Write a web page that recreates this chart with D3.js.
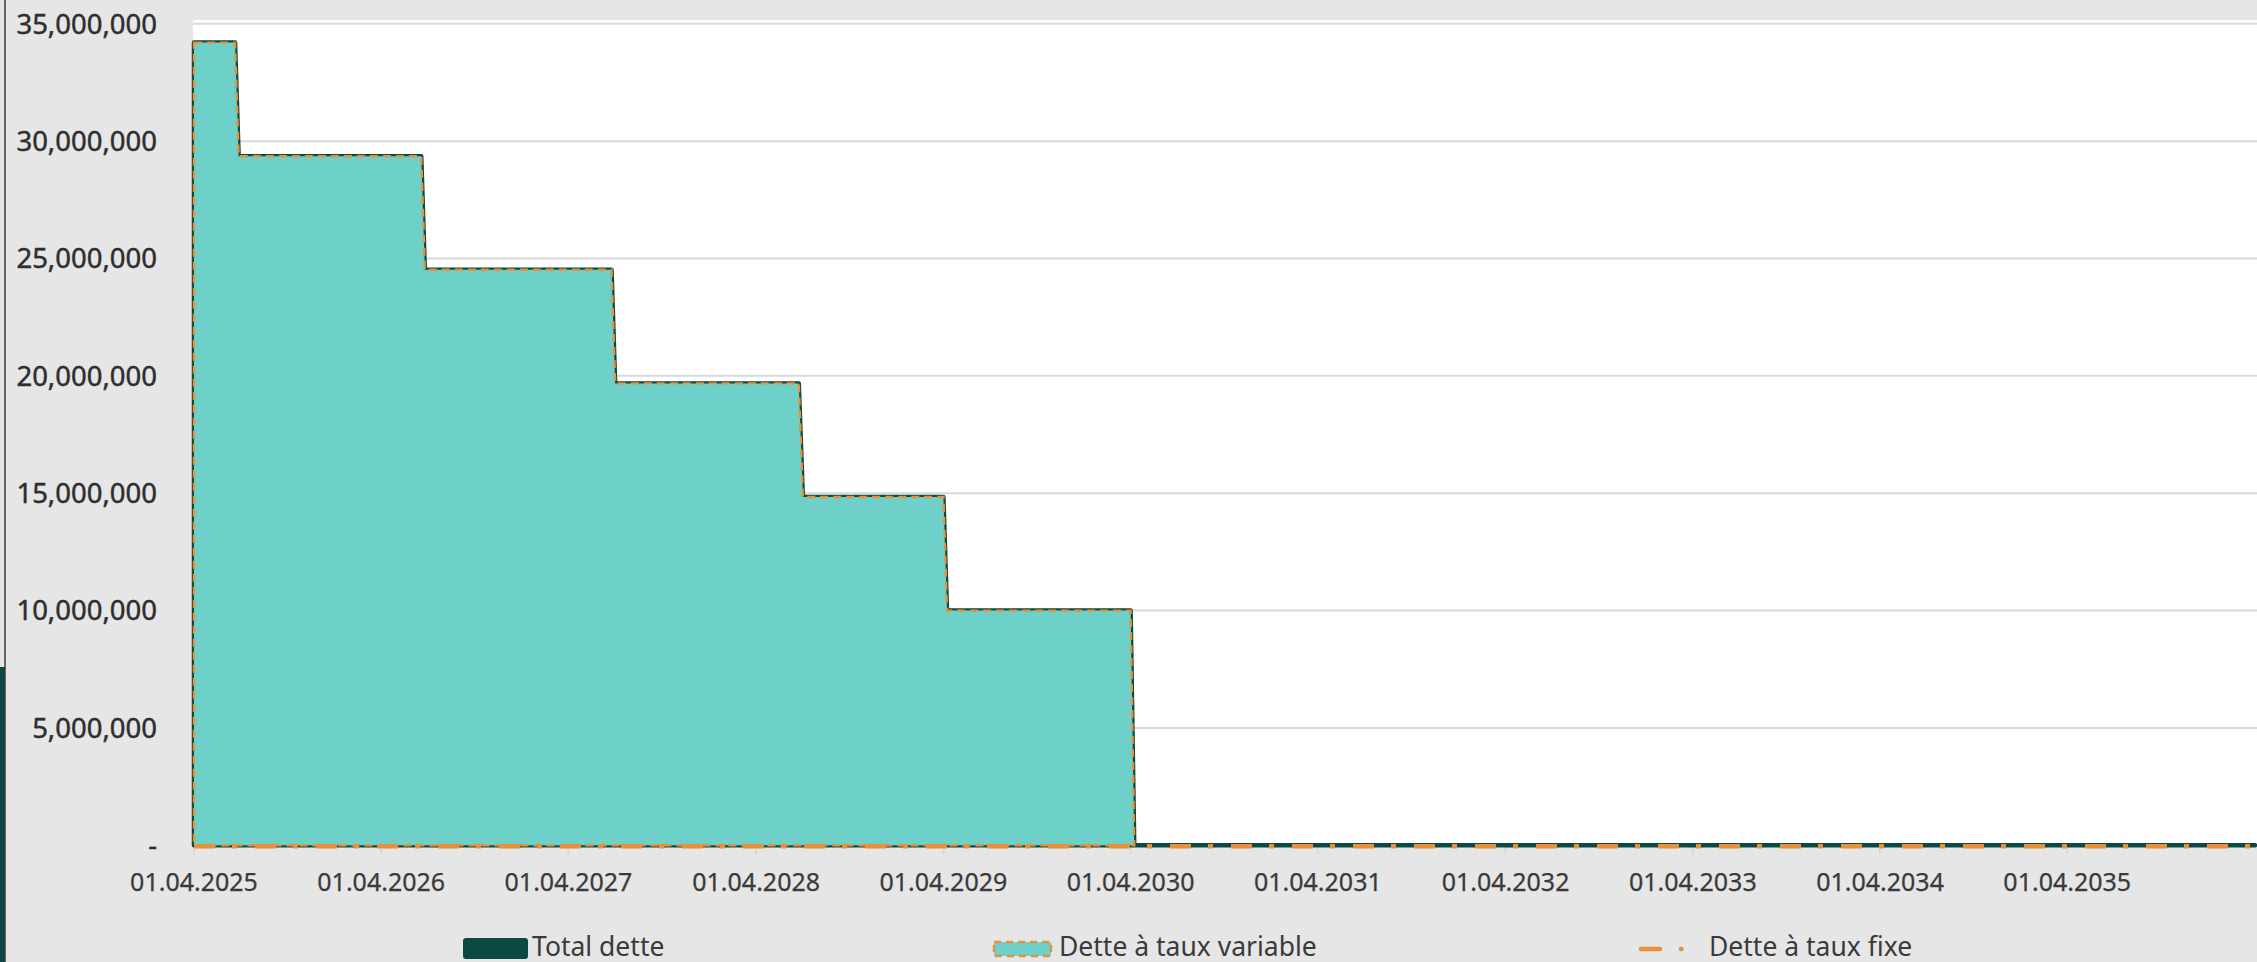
<!DOCTYPE html>
<html>
<head>
<meta charset="utf-8">
<script src="https://cdn.jsdelivr.net/npm/d3@7"></script>
<style>
  html, body { margin: 0; padding: 0; background: #e6e6e6; overflow: hidden; }
  svg { display: block; font-family: 'Noto Sans', 'Open Sans', sans-serif; }
</style>
</head>
<body>
<svg id="chart"></svg>
<script>
// debt schedule (steps, weekly points around each repayment)
const dates = [
  '2025-04-01', '2025-06-20', '2025-06-27',
  '2026-06-18', '2026-06-25',
  '2027-06-24', '2027-07-01',
  '2028-06-23', '2028-07-01',
  '2029-04-01', '2029-04-08',
  '2030-04-01', '2030-04-08',
  '2036-04-01'
]
const totalDebt = [
  34200000, 34200000, 29360000,
  29360000, 24520000,
  24520000, 19680000,
  19680000, 14840000,
  14840000, 10000000,
  10000000, 0,
  0
]
const variableDebt = [
  34200000, 34200000, 29360000,
  29360000, 24520000,
  24520000, 19680000,
  19680000, 14840000,
  14840000, 10000000,
  10000000, 0,
  null
]
const fixedDebt = [0, 0, 0, 0, 0, 0, 0, 0, 0, 0, 0, 0, 0, 0]

const yTicks = [0, 5000000, 10000000, 15000000, 20000000, 25000000, 30000000, 35000000]
const xTickYears = [2025, 2026, 2027, 2028, 2029, 2030, 2031, 2032, 2033, 2034, 2035]
const legendLabels = ['Total dette', 'Dette à taux variable', 'Dette à taux fixe']

const DARK = '#0b4a44'
const TEAL = '#6dd1ca'
const ORANGE = '#e8903a'
const TEXT = '#3a3a3a'

const width = 2257
const height = 962

const svg = d3.select('#chart')
  .attr('width', width)
  .attr('height', height)

const parse = d3.utcParse('%Y-%m-%d')
const rows = dates.map((d, i) => ({
  date: parse(d), total: totalDebt[i], variable: variableDebt[i], fixed: fixedDebt[i]
}))

const x = d3.scaleUtc()
  .domain([parse('2025-04-01'), parse('2036-04-01')])
  .range([194, 2255])
const y = d3.scaleLinear().domain([0, 35000000]).range([845.3, 23.8])

// window edge bits on the far left
svg.append('rect').attr('x', 0).attr('y', 667).attr('width', 5).attr('height', height - 667).attr('fill', DARK)
svg.append('line').attr('x1', 5).attr('x2', 5).attr('y1', 0).attr('y2', height)
  .attr('stroke', '#3a3a3a').attr('stroke-width', 1.5)

// plot area
svg.append('rect')
  .attr('x', x.range()[0] - 1).attr('y', 20)
  .attr('width', width - x.range()[0] + 1).attr('height', y(0) - 20)
  .attr('fill', '#ffffff')

// gridlines
svg.append('g')
  .selectAll('line')
  .data(yTicks)
  .join('line')
    .attr('x1', x.range()[0] - 1).attr('x2', width)
    .attr('y1', d => y(d)).attr('y2', d => y(d))
    .attr('stroke', '#d9d9d9').attr('stroke-width', 2)

// x tick marks
const xTicks = xTickYears.map(yr => new Date(Date.UTC(yr, 3, 1)))
svg.append('g')
  .selectAll('line')
  .data(xTicks)
  .join('line')
    .attr('x1', d => x(d)).attr('x2', d => x(d))
    .attr('y1', y(0)).attr('y2', y(0) + 9)
    .attr('stroke', '#d9d9d9').attr('stroke-width', 2)

// y labels
svg.append('g')
  .selectAll('text')
  .data(yTicks)
  .join('text')
    .attr('x', 157)
    .attr('y', d => y(d))
    .attr('dy', '0.36em')
    .attr('text-anchor', 'end')
    .attr('font-size', 27.5)
    .attr('fill', '#2e2e2e')
    .attr('stroke', '#2e2e2e')
    .attr('stroke-width', 0.45)
    .text(d => d === 0 ? '-' : d3.format(',')(d))

// x labels
const fmt = d3.utcFormat('%d.%m.%Y')
svg.append('g')
  .selectAll('text')
  .data(xTicks)
  .join('text')
    .attr('x', d => x(d))
    .attr('y', 891)
    .attr('text-anchor', 'middle')
    .attr('font-size', 25)
    .attr('fill', TEXT)
    .attr('stroke', TEXT)
    .attr('stroke-width', 0.25)
    .text(d => fmt(d))

const xd = d => x(d.date)

// total debt area (mostly hidden under variable)
const totalArea = d3.area().x(xd).y0(y(0)).y1(d => y(d.total))
svg.append('path')
  .datum(rows)
  .attr('d', totalArea)
  .attr('fill', DARK)
  .attr('stroke', DARK)
  .attr('stroke-width', 4.5)
  .attr('stroke-linejoin', 'round')

// variable rate area
const varRows = rows.filter(d => d.variable != null)
const varArea = d3.area().x(xd).y0(y(0)).y1(d => y(d.variable))
svg.append('path')
  .datum(varRows)
  .attr('d', varArea)
  .attr('fill', TEAL)
svg.append('path')
  .datum(varRows)
  .attr('d', varArea)
  .attr('fill', 'none')
  .attr('stroke', ORANGE)
  .attr('stroke-width', 2.4)
  .attr('stroke-dasharray', '8,5')

// fixed rate line
const fixedLine = d3.line().x(xd).y(d => y(d.fixed))
svg.append('path')
  .datum(rows)
  .attr('d', fixedLine)
  .attr('fill', 'none')
  .attr('stroke', ORANGE)
  .attr('stroke-width', 4.5)
  .attr('transform', 'translate(0,1)')
  .attr('stroke-dasharray', '21,17,5,18')

// legend
const lg = svg.append('g').attr('font-size', 26.5).attr('fill', TEXT)
lg.append('rect').attr('x', 463).attr('y', 938).attr('width', 65).attr('height', 21).attr('rx', 3)
  .attr('fill', DARK)
lg.append('text').attr('x', 532).attr('y', 956).text(legendLabels[0])

lg.append('rect').attr('x', 994).attr('y', 942).attr('width', 57).attr('height', 14)
  .attr('fill', TEAL).attr('stroke', ORANGE).attr('stroke-width', 2.5).attr('stroke-dasharray', '7,5')
lg.append('text').attr('x', 1059).attr('y', 956).text(legendLabels[1])

lg.append('line').attr('x1', 1641).attr('x2', 1688).attr('y1', 949).attr('y2', 949)
  .attr('stroke', ORANGE).attr('stroke-width', 4.5).attr('stroke-linecap', 'round')
  .attr('stroke-dasharray', '19,21,0.5,100')
lg.append('text').attr('x', 1709).attr('y', 956).text(legendLabels[2])
</script>
</body>
</html>
